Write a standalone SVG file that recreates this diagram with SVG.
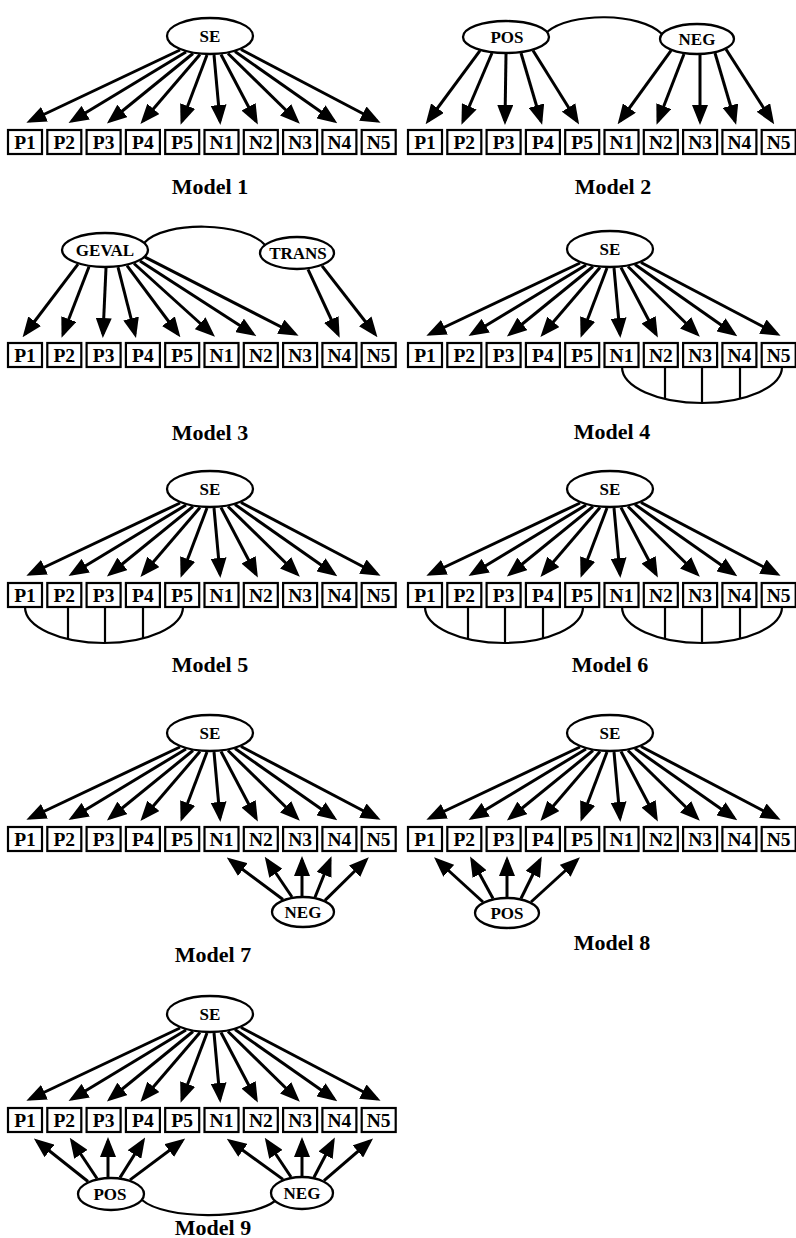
<svg xmlns="http://www.w3.org/2000/svg" width="796" height="1238" viewBox="0 0 796 1238">
<style>
rect{fill:#fff;stroke:#000;stroke-width:2.2}
ellipse{fill:#fff;stroke:#000;stroke-width:2.3}
text{font-family:"Liberation Serif","Times New Roman",serif;font-weight:bold;fill:#000;text-anchor:middle}
.b{font-size:19.5px}
.e{font-size:17px}
.title{font-size:22px}
.conn line{stroke:#000;stroke-width:3;marker-end:url(#ah)}
.conn path{fill:none;stroke:#000;stroke-width:2.2}
</style>
<defs>
<marker id="ah" markerUnits="userSpaceOnUse" viewBox="0 0 20 16" markerWidth="20" markerHeight="16" refX="16" refY="8" orient="auto"><path d="M0,0 L20,8 L0,16 z" fill="#000"/></marker>
</defs>
<rect x="0" y="0" width="796" height="1238" style="fill:#fff;stroke:none"/>

<!-- Model 1 -->
<g id="model1" transform="translate(0,130)">
<g id="m1-connectors" class="conn">
<line x1="180" y1="-80" x2="30" y2="-9"/><line x1="186" y1="-78" x2="72" y2="-9"/><line x1="193" y1="-76.5" x2="110" y2="-9"/><line x1="200" y1="-75.5" x2="143" y2="-9"/><line x1="207" y1="-75" x2="182" y2="-9"/><line x1="214" y1="-75" x2="220" y2="-9"/><line x1="221" y1="-75.5" x2="256" y2="-9"/><line x1="228" y1="-76.5" x2="297" y2="-9"/><line x1="235" y1="-78.5" x2="334" y2="-9"/><line x1="241" y1="-80.5" x2="377" y2="-9"/>
</g>
<g id="m1-SE"><ellipse cx="210" cy="-94" rx="43" ry="18"/><text class="e" x="210" y="-88">SE</text></g>
<g id="m1-P1"><rect x="8" y="0" width="34" height="24"/><text class="b" x="25" y="18.5">P1</text></g>
<g id="m1-P2"><rect x="47.3" y="0" width="34" height="24"/><text class="b" x="64.3" y="18.5">P2</text></g>
<g id="m1-P3"><rect x="86.6" y="0" width="34" height="24"/><text class="b" x="103.6" y="18.5">P3</text></g>
<g id="m1-P4"><rect x="125.9" y="0" width="34" height="24"/><text class="b" x="142.9" y="18.5">P4</text></g>
<g id="m1-P5"><rect x="165.2" y="0" width="34" height="24"/><text class="b" x="182.2" y="18.5">P5</text></g>
<g id="m1-N1"><rect x="204.5" y="0" width="34" height="24"/><text class="b" x="221.5" y="18.5">N1</text></g>
<g id="m1-N2"><rect x="243.8" y="0" width="34" height="24"/><text class="b" x="260.8" y="18.5">N2</text></g>
<g id="m1-N3"><rect x="283.1" y="0" width="34" height="24"/><text class="b" x="300.1" y="18.5">N3</text></g>
<g id="m1-N4"><rect x="322.4" y="0" width="34" height="24"/><text class="b" x="339.4" y="18.5">N4</text></g>
<g id="m1-N5"><rect x="361.7" y="0" width="34" height="24"/><text class="b" x="378.7" y="18.5">N5</text></g>
<text class="title" x="210" y="64">Model 1</text>
</g>

<!-- Model 2 -->
<g id="model2" transform="translate(400,130)">
<g id="m2-connectors" class="conn">
<path d="M147,-98 C170,-118 240,-118 262,-96"/>
<line x1="80" y1="-79.3" x2="28" y2="-9"/><line x1="92" y1="-77" x2="63" y2="-9"/><line x1="106" y1="-76" x2="105" y2="-9"/><line x1="121" y1="-77" x2="141" y2="-9"/><line x1="133" y1="-79.5" x2="177" y2="-9"/>
<line x1="271" y1="-79.3" x2="220" y2="-9"/><line x1="284" y1="-76" x2="258" y2="-9"/><line x1="300" y1="-75" x2="300" y2="-9"/><line x1="315" y1="-77" x2="335" y2="-9"/><line x1="326" y1="-80.7" x2="372" y2="-9"/>
</g>
<g id="m2-POS"><ellipse cx="106" cy="-93" rx="43" ry="16"/><text class="e" x="107" y="-87">POS</text></g>
<g id="m2-NEG"><ellipse cx="297" cy="-91" rx="37" ry="15"/><text class="e" x="297" y="-85">NEG</text></g>
<g id="m2-P1"><rect x="8" y="0" width="34" height="24"/><text class="b" x="25" y="18.5">P1</text></g>
<g id="m2-P2"><rect x="47.3" y="0" width="34" height="24"/><text class="b" x="64.3" y="18.5">P2</text></g>
<g id="m2-P3"><rect x="86.6" y="0" width="34" height="24"/><text class="b" x="103.6" y="18.5">P3</text></g>
<g id="m2-P4"><rect x="125.9" y="0" width="34" height="24"/><text class="b" x="142.9" y="18.5">P4</text></g>
<g id="m2-P5"><rect x="165.2" y="0" width="34" height="24"/><text class="b" x="182.2" y="18.5">P5</text></g>
<g id="m2-N1"><rect x="204.5" y="0" width="34" height="24"/><text class="b" x="221.5" y="18.5">N1</text></g>
<g id="m2-N2"><rect x="243.8" y="0" width="34" height="24"/><text class="b" x="260.8" y="18.5">N2</text></g>
<g id="m2-N3"><rect x="283.1" y="0" width="34" height="24"/><text class="b" x="300.1" y="18.5">N3</text></g>
<g id="m2-N4"><rect x="322.4" y="0" width="34" height="24"/><text class="b" x="339.4" y="18.5">N4</text></g>
<g id="m2-N5"><rect x="361.7" y="0" width="34" height="24"/><text class="b" x="378.7" y="18.5">N5</text></g>
<text class="title" x="213" y="64">Model 2</text>
</g>

<!-- Model 3 -->
<g id="model3" transform="translate(0,343)">
<g id="m3-connectors" class="conn">
<path d="M144,-100 C165,-123 245,-121 265,-98"/>
<line x1="78" y1="-78.8" x2="25" y2="-9"/><line x1="89" y1="-76.2" x2="63" y2="-9"/><line x1="106" y1="-75" x2="103" y2="-9"/><line x1="118" y1="-75.8" x2="135" y2="-9"/><line x1="127" y1="-77.4" x2="178" y2="-9"/><line x1="134" y1="-79.5" x2="212" y2="-9"/><line x1="140" y1="-82.1" x2="253" y2="-9"/><line x1="145" y1="-85.8" x2="295" y2="-9"/>
<line x1="308" y1="-73.7" x2="338" y2="-9"/><line x1="322" y1="-77.2" x2="375" y2="-9"/>
</g>
<g id="m3-GEVAL"><ellipse cx="105" cy="-93" rx="43" ry="17"/><text class="e" x="105" y="-87">GEVAL</text></g>
<g id="m3-TRANS"><ellipse cx="297" cy="-90" rx="37" ry="16"/><text class="e" x="298" y="-84">TRANS</text></g>
<g id="m3-P1"><rect x="8" y="0" width="34" height="24"/><text class="b" x="25" y="18.5">P1</text></g>
<g id="m3-P2"><rect x="47.3" y="0" width="34" height="24"/><text class="b" x="64.3" y="18.5">P2</text></g>
<g id="m3-P3"><rect x="86.6" y="0" width="34" height="24"/><text class="b" x="103.6" y="18.5">P3</text></g>
<g id="m3-P4"><rect x="125.9" y="0" width="34" height="24"/><text class="b" x="142.9" y="18.5">P4</text></g>
<g id="m3-P5"><rect x="165.2" y="0" width="34" height="24"/><text class="b" x="182.2" y="18.5">P5</text></g>
<g id="m3-N1"><rect x="204.5" y="0" width="34" height="24"/><text class="b" x="221.5" y="18.5">N1</text></g>
<g id="m3-N2"><rect x="243.8" y="0" width="34" height="24"/><text class="b" x="260.8" y="18.5">N2</text></g>
<g id="m3-N3"><rect x="283.1" y="0" width="34" height="24"/><text class="b" x="300.1" y="18.5">N3</text></g>
<g id="m3-N4"><rect x="322.4" y="0" width="34" height="24"/><text class="b" x="339.4" y="18.5">N4</text></g>
<g id="m3-N5"><rect x="361.7" y="0" width="34" height="24"/><text class="b" x="378.7" y="18.5">N5</text></g>
<text class="title" x="210" y="97">Model 3</text>
</g>

<!-- Model 4 -->
<g id="model4" transform="translate(400,343)">
<g id="m4-connectors" class="conn">
<line x1="180" y1="-80" x2="30" y2="-9"/><line x1="186" y1="-78" x2="72" y2="-9"/><line x1="193" y1="-76.5" x2="110" y2="-9"/><line x1="200" y1="-75.5" x2="143" y2="-9"/><line x1="207" y1="-75" x2="182" y2="-9"/><line x1="214" y1="-75" x2="220" y2="-9"/><line x1="221" y1="-75.5" x2="256" y2="-9"/><line x1="228" y1="-76.5" x2="297" y2="-9"/><line x1="235" y1="-78.5" x2="334" y2="-9"/><line x1="241" y1="-80.5" x2="377" y2="-9"/>
<path d="M222,24 A80,36 0 0 0 382,24"/><path d="M265,24 V56"/><path d="M302,24 V60"/><path d="M340,24 V55.7"/>
</g>
<g id="m4-SE"><ellipse cx="210" cy="-94" rx="43" ry="18"/><text class="e" x="210" y="-88">SE</text></g>
<g id="m4-P1"><rect x="8" y="0" width="34" height="24"/><text class="b" x="25" y="18.5">P1</text></g>
<g id="m4-P2"><rect x="47.3" y="0" width="34" height="24"/><text class="b" x="64.3" y="18.5">P2</text></g>
<g id="m4-P3"><rect x="86.6" y="0" width="34" height="24"/><text class="b" x="103.6" y="18.5">P3</text></g>
<g id="m4-P4"><rect x="125.9" y="0" width="34" height="24"/><text class="b" x="142.9" y="18.5">P4</text></g>
<g id="m4-P5"><rect x="165.2" y="0" width="34" height="24"/><text class="b" x="182.2" y="18.5">P5</text></g>
<g id="m4-N1"><rect x="204.5" y="0" width="34" height="24"/><text class="b" x="221.5" y="18.5">N1</text></g>
<g id="m4-N2"><rect x="243.8" y="0" width="34" height="24"/><text class="b" x="260.8" y="18.5">N2</text></g>
<g id="m4-N3"><rect x="283.1" y="0" width="34" height="24"/><text class="b" x="300.1" y="18.5">N3</text></g>
<g id="m4-N4"><rect x="322.4" y="0" width="34" height="24"/><text class="b" x="339.4" y="18.5">N4</text></g>
<g id="m4-N5"><rect x="361.7" y="0" width="34" height="24"/><text class="b" x="378.7" y="18.5">N5</text></g>
<text class="title" x="212" y="96">Model 4</text>
</g>

<!-- Model 5 -->
<g id="model5" transform="translate(0,583)">
<g id="m5-connectors" class="conn">
<line x1="180" y1="-80" x2="30" y2="-9"/><line x1="186" y1="-78" x2="72" y2="-9"/><line x1="193" y1="-76.5" x2="110" y2="-9"/><line x1="200" y1="-75.5" x2="143" y2="-9"/><line x1="207" y1="-75" x2="182" y2="-9"/><line x1="214" y1="-75" x2="220" y2="-9"/><line x1="221" y1="-75.5" x2="256" y2="-9"/><line x1="228" y1="-76.5" x2="297" y2="-9"/><line x1="235" y1="-78.5" x2="334" y2="-9"/><line x1="241" y1="-80.5" x2="377" y2="-9"/>
<path d="M25,24 A79,36 0 0 0 183,24"/><path d="M68,24 V56"/><path d="M105,24 V60"/><path d="M143,24 V55.3"/>
</g>
<g id="m5-SE"><ellipse cx="210" cy="-94" rx="43" ry="18"/><text class="e" x="210" y="-88">SE</text></g>
<g id="m5-P1"><rect x="8" y="0" width="34" height="24"/><text class="b" x="25" y="18.5">P1</text></g>
<g id="m5-P2"><rect x="47.3" y="0" width="34" height="24"/><text class="b" x="64.3" y="18.5">P2</text></g>
<g id="m5-P3"><rect x="86.6" y="0" width="34" height="24"/><text class="b" x="103.6" y="18.5">P3</text></g>
<g id="m5-P4"><rect x="125.9" y="0" width="34" height="24"/><text class="b" x="142.9" y="18.5">P4</text></g>
<g id="m5-P5"><rect x="165.2" y="0" width="34" height="24"/><text class="b" x="182.2" y="18.5">P5</text></g>
<g id="m5-N1"><rect x="204.5" y="0" width="34" height="24"/><text class="b" x="221.5" y="18.5">N1</text></g>
<g id="m5-N2"><rect x="243.8" y="0" width="34" height="24"/><text class="b" x="260.8" y="18.5">N2</text></g>
<g id="m5-N3"><rect x="283.1" y="0" width="34" height="24"/><text class="b" x="300.1" y="18.5">N3</text></g>
<g id="m5-N4"><rect x="322.4" y="0" width="34" height="24"/><text class="b" x="339.4" y="18.5">N4</text></g>
<g id="m5-N5"><rect x="361.7" y="0" width="34" height="24"/><text class="b" x="378.7" y="18.5">N5</text></g>
<text class="title" x="210" y="89">Model 5</text>
</g>

<!-- Model 6 -->
<g id="model6" transform="translate(400,583)">
<g id="m6-connectors" class="conn">
<line x1="180" y1="-80" x2="30" y2="-9"/><line x1="186" y1="-78" x2="72" y2="-9"/><line x1="193" y1="-76.5" x2="110" y2="-9"/><line x1="200" y1="-75.5" x2="143" y2="-9"/><line x1="207" y1="-75" x2="182" y2="-9"/><line x1="214" y1="-75" x2="220" y2="-9"/><line x1="221" y1="-75.5" x2="256" y2="-9"/><line x1="228" y1="-76.5" x2="297" y2="-9"/><line x1="235" y1="-78.5" x2="334" y2="-9"/><line x1="241" y1="-80.5" x2="377" y2="-9"/>
<path d="M25,24 A79,36 0 0 0 183,24"/><path d="M68,24 V56"/><path d="M105,24 V60"/><path d="M143,24 V55.3"/>
<path d="M222,24 A80,36 0 0 0 382,24"/><path d="M265,24 V56"/><path d="M302,24 V60"/><path d="M340,24 V55.7"/>
</g>
<g id="m6-SE"><ellipse cx="210" cy="-94" rx="43" ry="18"/><text class="e" x="210" y="-88">SE</text></g>
<g id="m6-P1"><rect x="8" y="0" width="34" height="24"/><text class="b" x="25" y="18.5">P1</text></g>
<g id="m6-P2"><rect x="47.3" y="0" width="34" height="24"/><text class="b" x="64.3" y="18.5">P2</text></g>
<g id="m6-P3"><rect x="86.6" y="0" width="34" height="24"/><text class="b" x="103.6" y="18.5">P3</text></g>
<g id="m6-P4"><rect x="125.9" y="0" width="34" height="24"/><text class="b" x="142.9" y="18.5">P4</text></g>
<g id="m6-P5"><rect x="165.2" y="0" width="34" height="24"/><text class="b" x="182.2" y="18.5">P5</text></g>
<g id="m6-N1"><rect x="204.5" y="0" width="34" height="24"/><text class="b" x="221.5" y="18.5">N1</text></g>
<g id="m6-N2"><rect x="243.8" y="0" width="34" height="24"/><text class="b" x="260.8" y="18.5">N2</text></g>
<g id="m6-N3"><rect x="283.1" y="0" width="34" height="24"/><text class="b" x="300.1" y="18.5">N3</text></g>
<g id="m6-N4"><rect x="322.4" y="0" width="34" height="24"/><text class="b" x="339.4" y="18.5">N4</text></g>
<g id="m6-N5"><rect x="361.7" y="0" width="34" height="24"/><text class="b" x="378.7" y="18.5">N5</text></g>
<text class="title" x="210" y="89">Model 6</text>
</g>

<!-- Model 7 -->
<g id="model7" transform="translate(0,827)">
<g id="m7-connectors" class="conn">
<line x1="180" y1="-80" x2="30" y2="-9"/><line x1="186" y1="-78" x2="72" y2="-9"/><line x1="193" y1="-76.5" x2="110" y2="-9"/><line x1="200" y1="-75.5" x2="143" y2="-9"/><line x1="207" y1="-75" x2="182" y2="-9"/><line x1="214" y1="-75" x2="220" y2="-9"/><line x1="221" y1="-75.5" x2="256" y2="-9"/><line x1="228" y1="-76.5" x2="297" y2="-9"/><line x1="235" y1="-78.5" x2="334" y2="-9"/><line x1="241" y1="-80.5" x2="377" y2="-9"/>
<line x1="283" y1="72.5" x2="230" y2="33"/><line x1="292" y1="70" x2="267" y2="33"/><line x1="302" y1="69" x2="302" y2="33"/><line x1="315" y1="70.2" x2="330" y2="33"/><line x1="325" y1="73.4" x2="366" y2="33"/>
</g>
<g id="m7-SE"><ellipse cx="210" cy="-94" rx="43" ry="18"/><text class="e" x="210" y="-88">SE</text></g>
<g id="m7-NEG"><ellipse cx="303" cy="85" rx="31" ry="15"/><text class="e" x="303" y="91">NEG</text></g>
<g id="m7-P1"><rect x="8" y="0" width="34" height="24"/><text class="b" x="25" y="18.5">P1</text></g>
<g id="m7-P2"><rect x="47.3" y="0" width="34" height="24"/><text class="b" x="64.3" y="18.5">P2</text></g>
<g id="m7-P3"><rect x="86.6" y="0" width="34" height="24"/><text class="b" x="103.6" y="18.5">P3</text></g>
<g id="m7-P4"><rect x="125.9" y="0" width="34" height="24"/><text class="b" x="142.9" y="18.5">P4</text></g>
<g id="m7-P5"><rect x="165.2" y="0" width="34" height="24"/><text class="b" x="182.2" y="18.5">P5</text></g>
<g id="m7-N1"><rect x="204.5" y="0" width="34" height="24"/><text class="b" x="221.5" y="18.5">N1</text></g>
<g id="m7-N2"><rect x="243.8" y="0" width="34" height="24"/><text class="b" x="260.8" y="18.5">N2</text></g>
<g id="m7-N3"><rect x="283.1" y="0" width="34" height="24"/><text class="b" x="300.1" y="18.5">N3</text></g>
<g id="m7-N4"><rect x="322.4" y="0" width="34" height="24"/><text class="b" x="339.4" y="18.5">N4</text></g>
<g id="m7-N5"><rect x="361.7" y="0" width="34" height="24"/><text class="b" x="378.7" y="18.5">N5</text></g>
<text class="title" x="213" y="135">Model 7</text>
</g>

<!-- Model 8 -->
<g id="model8" transform="translate(400,827)">
<g id="m8-connectors" class="conn">
<line x1="180" y1="-80" x2="30" y2="-9"/><line x1="186" y1="-78" x2="72" y2="-9"/><line x1="193" y1="-76.5" x2="110" y2="-9"/><line x1="200" y1="-75.5" x2="143" y2="-9"/><line x1="207" y1="-75" x2="182" y2="-9"/><line x1="214" y1="-75" x2="220" y2="-9"/><line x1="221" y1="-75.5" x2="256" y2="-9"/><line x1="228" y1="-76.5" x2="297" y2="-9"/><line x1="235" y1="-78.5" x2="334" y2="-9"/><line x1="241" y1="-80.5" x2="377" y2="-9"/>
<line x1="83" y1="75" x2="37" y2="33"/><line x1="93" y1="71.5" x2="72" y2="33"/><line x1="107" y1="70" x2="107" y2="33"/><line x1="121" y1="71.5" x2="140" y2="33"/><line x1="131" y1="75" x2="177" y2="33"/>
</g>
<g id="m8-SE"><ellipse cx="210" cy="-94" rx="43" ry="18"/><text class="e" x="210" y="-88">SE</text></g>
<g id="m8-POS"><ellipse cx="107" cy="86" rx="32" ry="15"/><text class="e" x="107" y="92">POS</text></g>
<g id="m8-P1"><rect x="8" y="0" width="34" height="24"/><text class="b" x="25" y="18.5">P1</text></g>
<g id="m8-P2"><rect x="47.3" y="0" width="34" height="24"/><text class="b" x="64.3" y="18.5">P2</text></g>
<g id="m8-P3"><rect x="86.6" y="0" width="34" height="24"/><text class="b" x="103.6" y="18.5">P3</text></g>
<g id="m8-P4"><rect x="125.9" y="0" width="34" height="24"/><text class="b" x="142.9" y="18.5">P4</text></g>
<g id="m8-P5"><rect x="165.2" y="0" width="34" height="24"/><text class="b" x="182.2" y="18.5">P5</text></g>
<g id="m8-N1"><rect x="204.5" y="0" width="34" height="24"/><text class="b" x="221.5" y="18.5">N1</text></g>
<g id="m8-N2"><rect x="243.8" y="0" width="34" height="24"/><text class="b" x="260.8" y="18.5">N2</text></g>
<g id="m8-N3"><rect x="283.1" y="0" width="34" height="24"/><text class="b" x="300.1" y="18.5">N3</text></g>
<g id="m8-N4"><rect x="322.4" y="0" width="34" height="24"/><text class="b" x="339.4" y="18.5">N4</text></g>
<g id="m8-N5"><rect x="361.7" y="0" width="34" height="24"/><text class="b" x="378.7" y="18.5">N5</text></g>
<text class="title" x="212" y="123">Model 8</text>
</g>

<!-- Model 9 -->
<g id="model9" transform="translate(0,1108)">
<g id="m9-connectors" class="conn">
<line x1="180" y1="-80" x2="30" y2="-9"/><line x1="186" y1="-78" x2="72" y2="-9"/><line x1="193" y1="-76.5" x2="110" y2="-9"/><line x1="200" y1="-75.5" x2="143" y2="-9"/><line x1="207" y1="-75" x2="182" y2="-9"/><line x1="214" y1="-75" x2="220" y2="-9"/><line x1="221" y1="-75.5" x2="256" y2="-9"/><line x1="228" y1="-76.5" x2="297" y2="-9"/><line x1="235" y1="-78.5" x2="334" y2="-9"/><line x1="241" y1="-80.5" x2="377" y2="-9"/>
<line x1="88" y1="73.5" x2="37" y2="33"/><line x1="97" y1="70.5" x2="72" y2="33"/><line x1="108" y1="69" x2="108" y2="33"/><line x1="120" y1="69.6" x2="143" y2="33"/><line x1="130" y1="71.9" x2="182" y2="33"/>
<line x1="283" y1="71.4" x2="230" y2="33"/><line x1="291" y1="69" x2="267" y2="33"/><line x1="302" y1="68" x2="302" y2="33"/><line x1="314" y1="69.3" x2="333" y2="33"/><line x1="324" y1="72.7" x2="370" y2="33"/>
<path d="M142,92 C165,112 250,112 275,93"/>
</g>
<g id="m9-SE"><ellipse cx="210" cy="-94" rx="43" ry="18"/><text class="e" x="210" y="-88">SE</text></g>
<g id="m9-POS"><ellipse cx="111" cy="86" rx="33" ry="16"/><text class="e" x="110" y="92">POS</text></g>
<g id="m9-NEG"><ellipse cx="302" cy="85" rx="31" ry="16"/><text class="e" x="302" y="91">NEG</text></g>
<g id="m9-P1"><rect x="8" y="0" width="34" height="24"/><text class="b" x="25" y="18.5">P1</text></g>
<g id="m9-P2"><rect x="47.3" y="0" width="34" height="24"/><text class="b" x="64.3" y="18.5">P2</text></g>
<g id="m9-P3"><rect x="86.6" y="0" width="34" height="24"/><text class="b" x="103.6" y="18.5">P3</text></g>
<g id="m9-P4"><rect x="125.9" y="0" width="34" height="24"/><text class="b" x="142.9" y="18.5">P4</text></g>
<g id="m9-P5"><rect x="165.2" y="0" width="34" height="24"/><text class="b" x="182.2" y="18.5">P5</text></g>
<g id="m9-N1"><rect x="204.5" y="0" width="34" height="24"/><text class="b" x="221.5" y="18.5">N1</text></g>
<g id="m9-N2"><rect x="243.8" y="0" width="34" height="24"/><text class="b" x="260.8" y="18.5">N2</text></g>
<g id="m9-N3"><rect x="283.1" y="0" width="34" height="24"/><text class="b" x="300.1" y="18.5">N3</text></g>
<g id="m9-N4"><rect x="322.4" y="0" width="34" height="24"/><text class="b" x="339.4" y="18.5">N4</text></g>
<g id="m9-N5"><rect x="361.7" y="0" width="34" height="24"/><text class="b" x="378.7" y="18.5">N5</text></g>
<text class="title" x="213" y="127">Model 9</text>
</g>
</svg>
